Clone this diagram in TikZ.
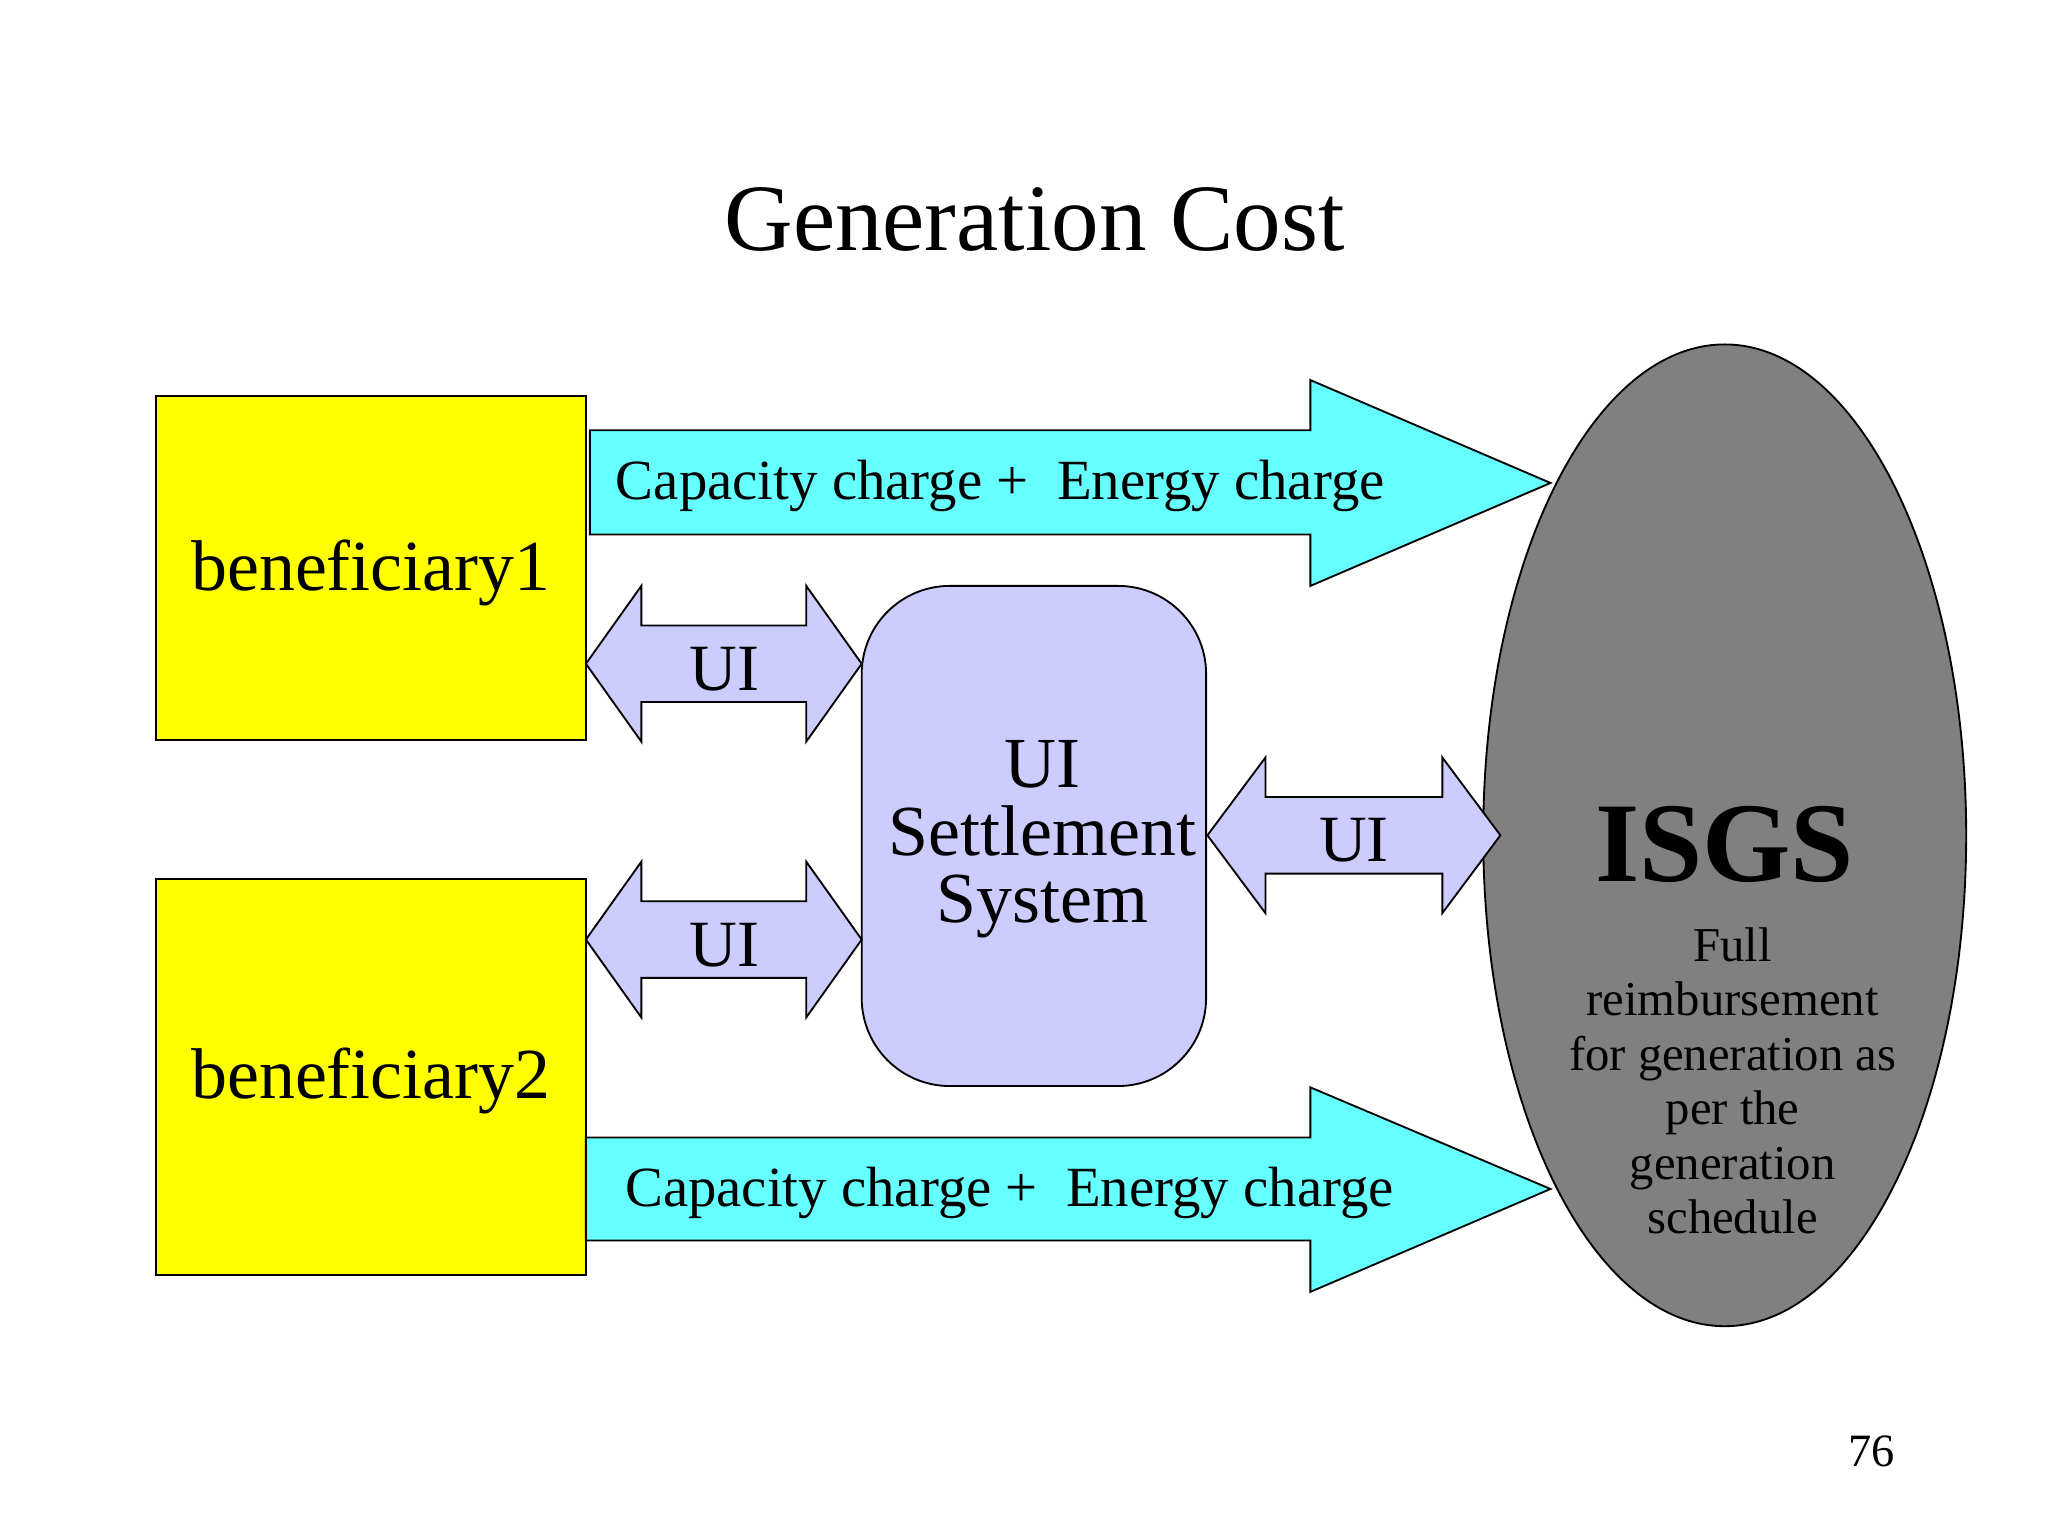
\documentclass[tikz,border=0pt]{standalone}
\usepackage{fontspec}
\setmainfont{Liberation Serif}
\definecolor{cy}{RGB}{102,255,255}
\definecolor{lav}{RGB}{204,204,255}
\definecolor{yel}{RGB}{255,255,0}
\begin{document}
\begin{tikzpicture}[x=0.02cm,y=-0.02cm,
  box/.style={draw=black,fill=yel,line width=0.8pt},
  big/.style={draw=black,fill=cy,line width=0.8pt},
  dbl/.style={draw=black,fill=lav,line width=0.8pt},
  lab/.style={font=\fontsize{24.5}{28}\selectfont},
  ui/.style={font=\fontsize{28.5}{32}\selectfont}]
\path[use as bounding box,fill=white] (0,0) rectangle (1552,1164);
\node[font=\fontsize{41}{46}\selectfont] (title) at (784,166) {Generation Cost};
% boxes
\draw[box] (118,300) rectangle (444,561);
\node[font=\fontsize{31}{36}\selectfont] (b1) at (281,434) {beneficiary1};
\draw[box] (118,666) rectangle (444,966);
\node[font=\fontsize{31}{36}\selectfont] (b2) at (281,819) {beneficiary2};
% ellipse
\draw[fill={rgb,255:red,128;green,128;blue,128},line width=0.8pt] (1307,633) ellipse [x radius=183, y radius=372];
\node[font=\bfseries\fontsize{49}{54}\selectfont] (isgs) at (1307,640) {ISGS};
\node[font=\fontsize{21}{23.5}\selectfont,align=center] (full) at (1313,819) {Full\\reimbursement\\for generation as\\per the\\generation\\schedule};
% big arrows
\draw[big] (447,326) -- (993,326) -- (993,288) -- (1175,366) -- (993,444) -- (993,405) -- (447,405) -- cycle;
\node[lab] (c1) at (758,368) {Capacity charge +\ \ Energy charge};
\draw[big] (444,862) -- (993,862) -- (993,824) -- (1175,901) -- (993,979) -- (993,940) -- (444,940) -- cycle;
\node[lab] (c2) at (765,904) {Capacity charge +\ \ Energy charge};
% settlement box
\draw[dbl,rounded corners=38] (653,444) rectangle (914,823);
\node[font=\fontsize{31}{29}\selectfont,align=center] (sys) at (790,636) {UI\\Settlement\\System};
% double arrows
\foreach \l/\r/\c/\hl in {444/653/503/42, 444/653/712/42, 915/1137/633/44}{
  \draw[dbl] (\l,\c) -- (\l+\hl,\c-59) -- (\l+\hl,\c-29) -- (\r-\hl,\c-29) -- (\r-\hl,\c-59) -- (\r,\c)
    -- (\r-\hl,\c+59) -- (\r-\hl,\c+29) -- (\l+\hl,\c+29) -- (\l+\hl,\c+59) -- cycle;
}
\node[ui] (ua) at (549,507) {UI};
\node[ui] (ub) at (549,716) {UI};
\node[ui] (uc) at (1026,637) {UI};
\node[font=\fontsize{20}{24}\selectfont] (pg) at (1418,1100) {76};
\end{tikzpicture}
\end{document}
